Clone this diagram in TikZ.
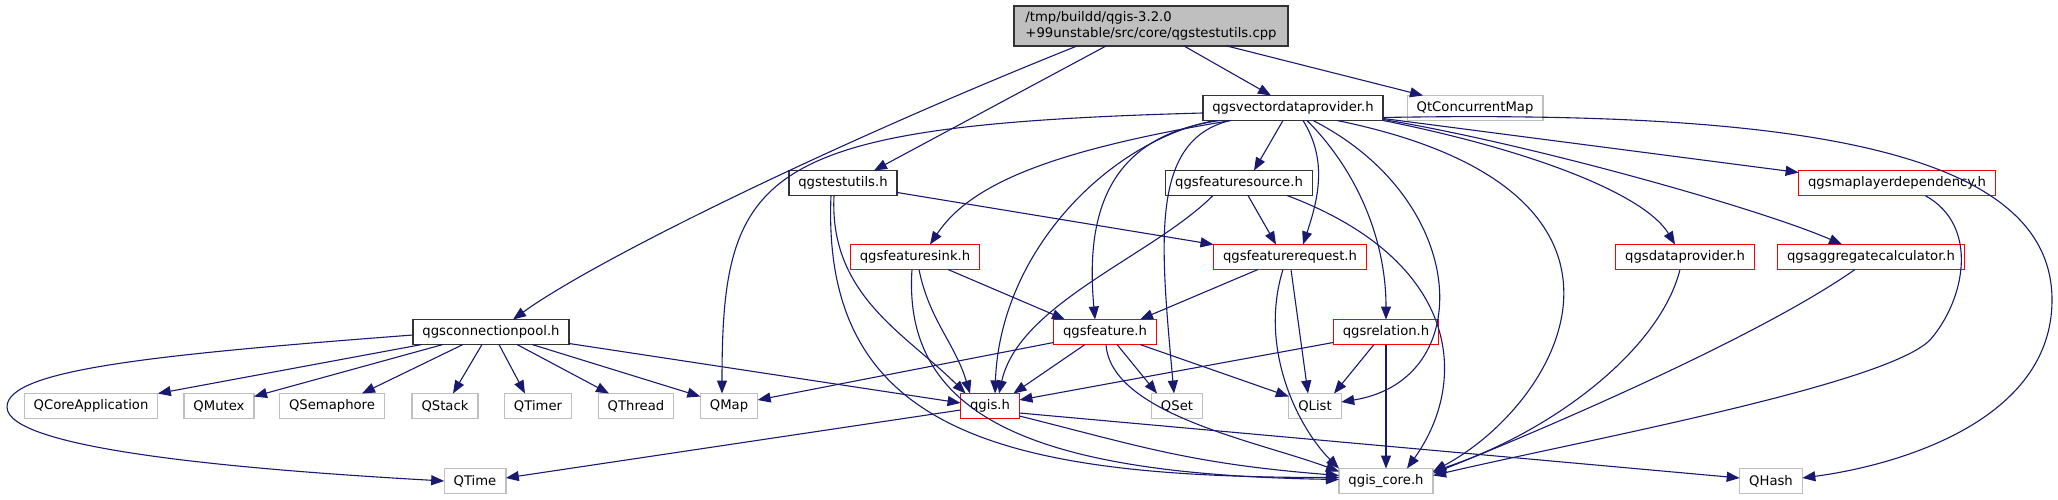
\documentclass[tikz,border=0pt]{standalone}
\usepackage{fontspec}
\setmainfont{DejaVu Sans}
\usetikzlibrary{arrows.meta}
\definecolor{edgeblue}{RGB}{25,25,112}
\definecolor{extgray}{RGB}{191,191,191}

\begin{document}
\begin{tikzpicture}[
  x=1pt, y=-1pt,
  file/.style={draw, fill=white, minimum height=25pt, inner xsep=9.5pt,
    inner ysep=0pt, outer sep=0pt, font=\fontsize{13.2}{15.8}\selectfont},
  mainfile/.style={file, fill=extgray, draw=black!80, line width=1.5pt,
    align=left, minimum height=40pt, minimum width=274pt},
  doc/.style={file, draw=black!80, line width=1.5pt},
  trunc/.style={file, draw=red, line width=1.3pt},
  ext/.style={file, draw=extgray, line width=1.3pt},
  inc/.style={-{Triangle[length=13pt,width=10pt]}, draw=edgeblue, line width=1.1pt}
]
  \useasboundingbox (0,0) rectangle (2058,500);

  % Files
  \node[mainfile] (src) at (1151,26) {/tmp/buildd/qgis-3.2.0\\+99unstable/src/core/qgstestutils.cpp};
  \node[doc] (vecprov) at (1293,108) {qgsvectordataprovider.h};
  \node[ext] (qtconcmap) at (1475,108) {QtConcurrentMap};
  \node[doc] (testutils) at (843,183) {qgstestutils.h};
  \node[doc] (fsource) at (1239,183) {qgsfeaturesource.h};
  \node[trunc] (mldep) at (1897,183) {qgsmaplayerdependency.h};
  \node[trunc] (fsink) at (915,257) {qgsfeaturesink.h};
  \node[trunc] (freq) at (1290,257) {qgsfeaturerequest.h};
  \node[trunc] (dprov) at (1685,257) {qgsdataprovider.h};
  \node[trunc] (aggcalc) at (1871,257) {qgsaggregatecalculator.h};
  \node[doc] (cpool) at (491,332) {qgsconnectionpool.h};
  \node[trunc] (feature) at (1105,332) {qgsfeature.h};
  \node[trunc] (relation) at (1386,332) {qgsrelation.h};
  \node[ext] (qcoreapp) at (91,406) {QCoreApplication};
  \node[ext] (qmutex) at (219,406) {QMutex};
  \node[ext] (qsemaphore) at (332,406) {QSemaphore};
  \node[ext] (qstack) at (445,406) {QStack};
  \node[ext] (qtimer) at (538,406) {QTimer};
  \node[ext] (qthread) at (636,406) {QThread};
  \node[ext] (qmap) at (729,406) {QMap};
  \node[trunc] (qgis) at (990,406) {qgis.h};
  \node[ext] (qset) at (1177,406) {QSet};
  \node[ext] (qlist) at (1315,406) {QList};
  \node[ext] (qtime) at (475,481) {QTime};
  \node[ext] (qgiscore) at (1386,481) {qgis\_core.h};
  \node[ext] (qhash) at (1771,481) {QHash};

  % Includes of the source file
  \draw[inc] ([xshift=-74pt]src.south) .. controls +(-250,100) and +(80,-58) .. ([xshift=22pt]cpool.north);
  \draw[inc] ([xshift=-45pt]src.south) -- ([xshift=31pt]testutils.north);
  \draw[inc] ([xshift=33pt]src.south) -- ([xshift=-22pt]vecprov.north);
  \draw[inc] ([xshift=76pt]src.south) -- ([xshift=-52pt]qtconcmap.north);

  % qgsvectordataprovider.h
  \draw[inc] ([yshift=-5pt]vecprov.west) .. controls +(-444,12) and +(0,-224) .. ([xshift=-7pt]qmap.north);
  \draw[inc] ([xshift=-62pt]vecprov.south) .. controls +(-181,30) and +(40,-60) .. ([xshift=15pt]fsink.north);
  \draw[inc] ([xshift=-78pt]vecprov.south) .. controls +(-105,20) and +(5,-143) .. ([xshift=5pt]qgis.north);
  \draw[inc] ([xshift=-73pt]vecprov.south) .. controls +(-110,15) and +(-10,-109) .. ([xshift=-10pt]feature.north);
  \draw[inc] ([xshift=-63pt]vecprov.south) .. controls +(-80,20) and +(-14,-154) .. ([xshift=-3pt]qset.north);
  \draw[inc] ([xshift=-10pt]vecprov.south) -- ([xshift=15pt]fsource.north);
  \draw[inc] ([xshift=10pt]vecprov.south) .. controls +(25,40) and +(15,-45) .. ([xshift=13pt]freq.north);
  \draw[inc] ([xshift=14pt]vecprov.south) .. controls +(50,50) and +(0,-80) .. (relation.north);
  \draw[inc] ([xshift=20pt]vecprov.south) .. controls +(157,80) and +(137,-22) .. ([yshift=4pt]qlist.east);
  \draw[inc] ([xshift=44pt]vecprov.south) .. controls +(343,70) and +(130,-70) .. ([yshift=-3pt]qgiscore.north east);
  \draw[inc] (vecprov.south east) .. controls +(150,30) and +(-30,-50) .. ([xshift=-10pt]dprov.north);
  \draw[inc] ([yshift=1pt]vecprov.south east) .. controls +(150,25) and +(-80,-35) .. ([xshift=-29pt]aggcalc.north);
  \draw[inc] ([yshift=2pt]vecprov.south east) -- ([yshift=-2pt]mldep.north west);
  \draw[inc] ([yshift=3pt]vecprov.south east) .. controls (1800,110) and (2052,150) .. (2052,300)
    .. controls (2052,420) and (1900,465) .. ([yshift=3pt]qhash.east);

  % qgstestutils.h
  \draw[inc] ([yshift=3pt]testutils.south east) -- (freq.north west);
  \draw[inc] ([xshift=-9pt]testutils.south) .. controls +(-5,100) and +(-60,-60) .. ([xshift=5pt]qgis.north west);
  \draw[inc] ([xshift=-12pt]testutils.south) .. controls +(-10,235) and +(-340,0) .. ([yshift=-9pt]qgiscore.north west);

  % qgsfeaturesink.h
  \draw[inc] ([xshift=33pt]fsink.south) -- ([xshift=-40pt]feature.north);
  \draw[inc] ([xshift=4pt]fsink.south) .. controls +(10,50) and +(-15,-50) .. ([xshift=-20pt]qgis.north);
  \draw[inc] ([xshift=-3pt]fsink.south) .. controls +(-10,150) and +(-300,-5) .. ([yshift=-11pt]qgiscore.north west);

  % qgsfeaturesource.h
  \draw[inc] ([xshift=9pt]fsource.south) -- ([xshift=-14pt]freq.north);
  \draw[inc] ([xshift=-26pt]fsource.south) .. controls +(-60,60) and +(20,-90) .. ([xshift=9pt]qgis.north);
  \draw[inc] ([xshift=48pt]fsource.south) .. controls +(173,65) and +(63,-88) .. ([xshift=21pt]qgiscore.north);

  % qgsfeaturerequest.h
  \draw[inc] ([xshift=-32pt]freq.south) -- ([xshift=35pt]feature.north);
  \draw[inc] ([xshift=1pt]freq.south) -- ([xshift=-7pt]qlist.north);
  \draw[inc] ([xshift=-7pt]freq.south) .. controls +(-25,80) and +(-40,-40) .. (qgiscore.north west);

  % qgsfeature.h
  \draw[inc] ([yshift=2pt]feature.south west) -- ([yshift=6pt]qmap.east);
  \draw[inc] ([xshift=-20pt]feature.south) -- ([xshift=-6pt]qgis.north east);
  \draw[inc] ([xshift=12pt]feature.south) -- ([xshift=-20pt]qset.north);
  \draw[inc] ([xshift=35pt]feature.south) -- ([yshift=-3pt]qlist.north west);
  \draw[inc] ([xshift=1pt]feature.south) .. controls +(5,70) and +(-80,-30) .. ([yshift=-3pt]qgiscore.north west);

  % qgsrelation.h
  \draw[inc] ([yshift=2pt]relation.south west) -- ([yshift=6pt]qgis.east);
  \draw[inc] ([xshift=-12pt]relation.south) -- ([xshift=19pt]qlist.north);
  \draw[inc] (relation.south) -- (qgiscore.north);

  % qgsconnectionpool.h
  \draw[inc] ([xshift=-69pt]cpool.south) -- (qcoreapp.north east);
  \draw[inc] ([xshift=-48pt]cpool.south) -- ([yshift=-3pt]qmutex.north east);
  \draw[inc] ([xshift=-28pt]cpool.south) -- ([xshift=30pt]qsemaphore.north);
  \draw[inc] ([xshift=-9pt]cpool.south) -- ([xshift=8pt]qstack.north);
  \draw[inc] ([xshift=8pt]cpool.south) -- ([xshift=-13pt]qtimer.north);
  \draw[inc] ([xshift=26pt]cpool.south) -- ([xshift=-27pt]qthread.north);
  \draw[inc] ([xshift=41pt]cpool.south) -- ([yshift=-3pt]qmap.north west);
  \draw[inc] ([yshift=1pt]cpool.south east) -- ([yshift=3pt]qgis.west);
  \draw[inc] ([yshift=-3pt]cpool.west) .. controls (150,355) and (7,370) .. (7,407)
    .. controls (7,450) and (250,470) .. (qtime.west);

  % qgis.h
  \draw[inc] ([yshift=-4pt]qgis.west) -- ([yshift=3pt]qtime.east);
  \draw[inc] ([yshift=-10pt]qgis.east) .. controls +(120,30) and +(-150,-12) .. ([yshift=-7pt]qgiscore.north west);
  \draw[inc] ([yshift=-7pt]qgis.east) -- ([yshift=3pt]qhash.west);

  % right-hand headers
  \draw[inc] ([xshift=-5pt]dprov.south) .. controls +(-20,80) and +(120,-40) .. ([yshift=-3pt]qgiscore.north east);
  \draw[inc] ([xshift=-16pt]aggcalc.south) .. controls +(-100,70) and +(100,-40) .. ([yshift=-5pt]qgiscore.north east);
  \draw[inc] ([xshift=28pt]mldep.south) .. controls +(55,30) and +(35,-40) .. (1930,340)
    .. controls +(-45,45) and +(150,-35) .. ([yshift=-7pt]qgiscore.north east);
\end{tikzpicture}
\end{document}
